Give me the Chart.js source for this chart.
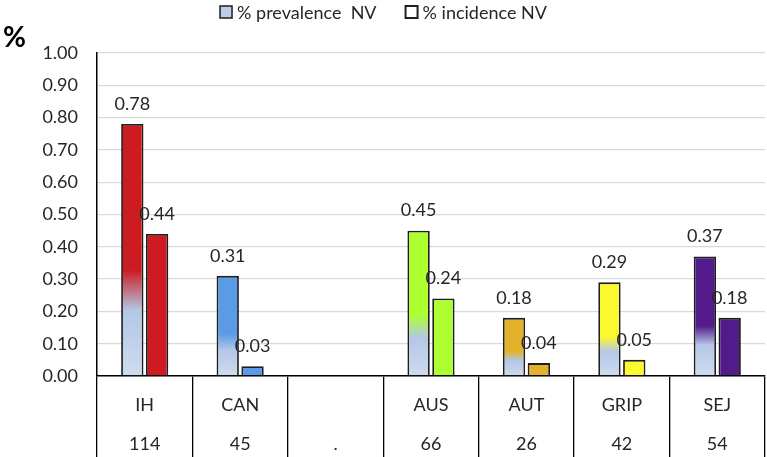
<!DOCTYPE html>
<html>
<head>
<meta charset="utf-8">
<script src="https://cdn.jsdelivr.net/npm/chart.js@4"></script>
<style>
  html, body { margin: 0; background: #fff; }
  #wrap { width: 767px; height: 457px; }
</style>
</head>
<body>
<div id="wrap"><canvas id="chart"></canvas></div>
<script>
const categories = ["IH", "CAN", "", "AUS", "AUT", "GRIP", "SEJ"];
const counts = ["114", "45", ".", "66", "26", "42", "54"];
const prevalence = [0.78, 0.31, null, 0.45, 0.18, 0.29, 0.37];
const incidence = [0.44, 0.03, null, 0.24, 0.04, 0.05, 0.18];
const barColors = ["#cc1c22", "#5b9be6", "#ffffff", "#adff2f", "#e3b22b", "#fafa2e", "#531a8a"];
const legendNames = ["% prevalence  NV", "% incidence NV"];

const FONT = "Lato";
const TEXT = "#262626";

// prevalence bars fade from light blue at the base into the category colour
function prevalenceFill(c) {
  const chart = c.chart;
  const i = c.dataIndex;
  const v = prevalence[i];
  if (!chart.chartArea || v == null) return barColors[i] || "#b4c7e7";
  const y = chart.scales.y;
  const base = y.getPixelForValue(0);
  const top = y.getPixelForValue(v);
  const g = chart.ctx.createLinearGradient(0, base, 0, top);
  g.addColorStop(0, "#cfdbef");
  g.addColorStop(0.26, "#b4c7e7");
  g.addColorStop(0.42, barColors[i]);
  g.addColorStop(1, barColors[i]);
  return g;
}

const valueLabels = {
  id: "valueLabels",
  afterDatasetsDraw(chart) {
    const ctx = chart.ctx;
    ctx.save();
    ctx.font = `18px ${FONT}`;
    ctx.fillStyle = TEXT;
    ctx.textAlign = "center";
    ctx.textBaseline = "middle";
    chart.data.datasets.forEach((ds, di) => {
      chart.getDatasetMeta(di).data.forEach((bar, i) => {
        if (ds.data[i] == null) return;
        ctx.fillText(ds.data[i].toFixed(2), bar.x, bar.y - 20);
      });
    });
    ctx.restore();
  }
};

// "%" in the corner and the two-item legend along the top
const decorations = {
  id: "decorations",
  afterDraw(chart) {
    const ctx = chart.ctx;
    ctx.save();
    ctx.font = `bold 28px ${FONT}`;
    ctx.fillStyle = "#000";
    ctx.textAlign = "left";
    ctx.textBaseline = "middle";
    ctx.fillText("%", 3, 38);

    ctx.font = `18px ${FONT}`;
    ctx.fillStyle = TEXT;
    const box = 12, gapText = 5, gapItem = 29;
    const widths = legendNames.map((t) => ctx.measureText(t).width);
    const total = widths.reduce((a, w) => a + box + gapText + w, 0) + gapItem;
    let x = chart.width / 2 - total / 2;
    const y = 12;
    const fills = ["#bccde9", "#ffffff"];
    legendNames.forEach((t, i) => {
      ctx.fillStyle = fills[i];
      ctx.fillRect(x, y - box / 2, box, box);
      ctx.strokeStyle = "#1e1e1e";
      ctx.lineWidth = i === 0 ? 1.5 : 2;
      ctx.strokeRect(x, y - box / 2, box, box);
      ctx.fillStyle = TEXT;
      ctx.fillText(t, x + box + gapText, y + 1);
      x += box + gapText + widths[i] + gapItem;
    });
    ctx.restore();
  }
};

new Chart(document.getElementById("chart"), {
  type: "bar",
  data: {
    labels: categories.map((c, i) => [c, counts[i]]),
    datasets: [
      {
        label: legendNames[0],
        data: prevalence,
        backgroundColor: prevalenceFill,
        borderColor: "#1e1e1e",
        borderWidth: 1.8
      },
      {
        label: legendNames[1],
        data: incidence,
        backgroundColor: barColors,
        borderColor: "#1e1e1e",
        borderWidth: 1.8
      }
    ]
  },
  options: {
    responsive: true,
    maintainAspectRatio: false,
    animation: false,
    categoryPercentage: 0.52,
    barPercentage: 0.9,
    layout: { padding: { top: 53, right: 2, left: 0, bottom: 0 } },
    plugins: {
      legend: { display: false },
      tooltip: { enabled: false }
    },
    scales: {
      x: {
        grid: { drawOnChartArea: false, drawTicks: true, tickLength: 81, color: "#000", lineWidth: 1.3, offset: true },
        border: { color: "#000", width: 1.5 },
        ticks: {
          autoSkip: false,
          maxRotation: 0,
          padding: -72,
          color: TEXT,
          font: { family: FONT, size: 18, lineHeight: 2.2 }
        },
        afterFit: (s) => { s.height = 81; }
      },
      y: {
        min: 0,
        max: 1,
        ticks: {
          stepSize: 0.1,
          padding: 19,
          color: TEXT,
          font: { family: FONT, size: 18 },
          callback: (v) => v.toFixed(2)
        },
        grid: { color: "#d9d9d9", lineWidth: 1.3, drawTicks: false },
        border: { color: "#000", width: 1.5 },
        afterFit: (s) => { s.width = 97; }
      }
    }
  },
  plugins: [valueLabels, decorations]
});
</script>
</body>
</html>
